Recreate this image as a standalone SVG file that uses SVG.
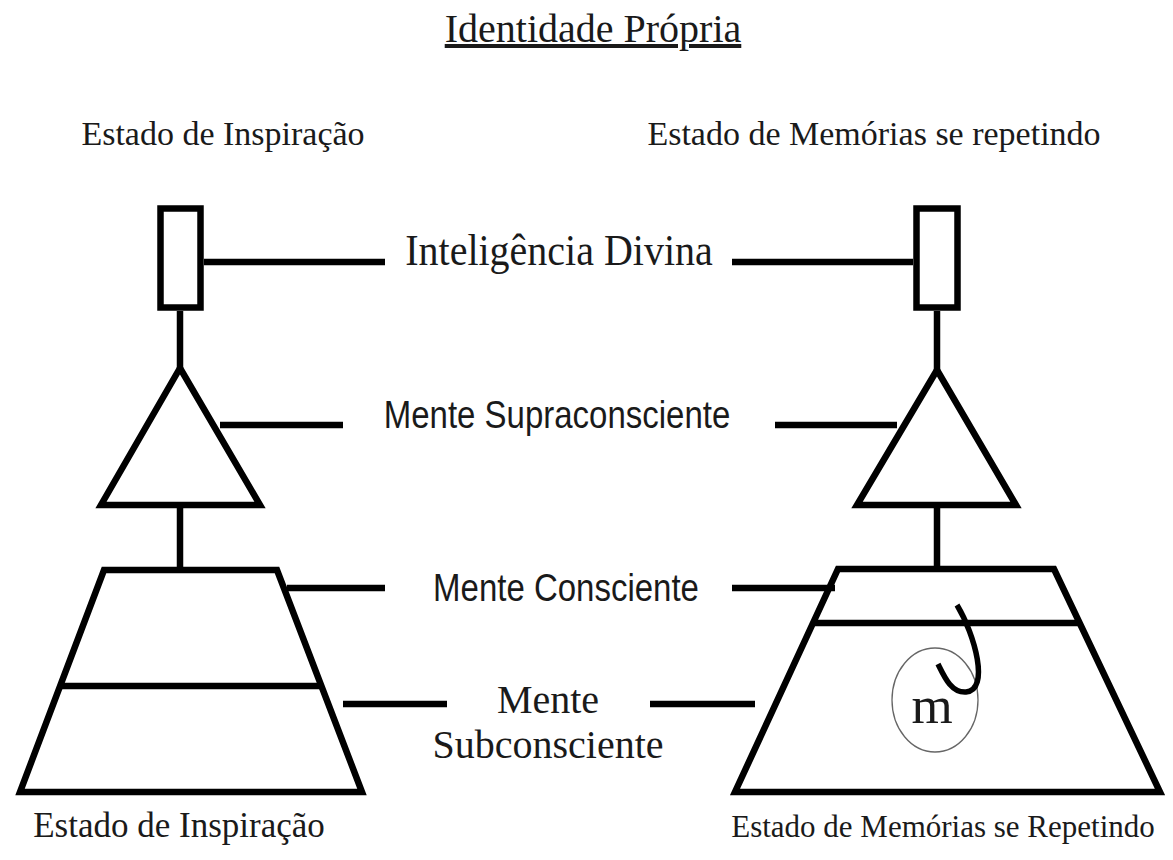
<svg xmlns="http://www.w3.org/2000/svg" width="1173" height="860" viewBox="0 0 1173 860">
<style>
.shape{fill:none;stroke:#000;stroke-width:6.5;stroke-linejoin:miter}
.conn{stroke:#000;stroke-width:6.5;fill:none}
.serif{font-family:"Liberation Serif","Times New Roman",serif;fill:#1a1a1a}
.sans{font-family:"Liberation Sans",Arial,sans-serif;fill:#1a1a1a}
</style>
<rect width="1173" height="860" fill="#fff"/>
<text id="title" class="serif" x="593" y="42" font-size="40" text-anchor="middle" text-decoration="underline">Identidade Própria</text>
<text class="serif" x="223" y="145" font-size="34" text-anchor="middle">Estado de Inspiração</text>
<text class="serif" x="874" y="145" font-size="34" text-anchor="middle">Estado de Memórias se repetindo</text>
<text class="serif" x="179" y="837" font-size="35" text-anchor="middle">Estado de Inspiração</text>
<text class="serif" x="943" y="837" font-size="31" text-anchor="middle">Estado de Memórias se Repetindo</text>
<g id="left-figure">
<g id="left-rect"><rect class="shape" x="160.5" y="208.5" width="40" height="99"/></g>
<g id="left-triangle"><polygon class="shape" points="180,368 101,505 260,505"/></g>
<g id="left-trapezoid"><polygon class="shape" points="104,570 277,570 362,792 20,792"/><line class="shape" x1="58" y1="686" x2="322" y2="686"/></g>
</g>
<g id="right-figure">
<g id="right-rect"><rect class="shape" x="916.5" y="208.5" width="41" height="99"/></g>
<g id="right-triangle"><polygon class="shape" points="937,370 857,505 1016,505"/></g>
<g id="right-trapezoid"><polygon class="shape" points="838,569 1054,569 1160,792 735,792"/><line class="shape" x1="815" y1="623" x2="1080" y2="623"/></g>
<g id="memory"><ellipse cx="935" cy="700" rx="43" ry="52" fill="none" stroke="#666" stroke-width="1.3"/><text class="serif" x="932" y="723" font-size="53" text-anchor="middle">m</text><path d="M957 605 C 975 635, 990 690, 966 692 C 951 693, 944 676, 938 664" fill="none" stroke="#000" stroke-width="5.5" stroke-linecap="butt"/></g>
</g>
<g id="labels">
<text id="lbl-divina" class="serif" font-size="40" text-anchor="middle" transform="translate(559,265) scale(1,1.1)">Inteligência Divina</text>
<text id="lbl-supra" class="sans" font-size="33" text-anchor="middle" transform="translate(557,428) scale(1,1.18)">Mente Supraconsciente</text>
<text id="lbl-consc" class="sans" font-size="33" text-anchor="middle" transform="translate(566,601) scale(1,1.18)">Mente Consciente</text>
<text id="lbl-sub" class="serif" font-size="40" text-anchor="middle"><tspan x="548" y="713">Mente</tspan><tspan x="548" y="758">Subconsciente</tspan></text>
</g>
<g id="connectors">
<line class="conn" x1="180" y1="311" x2="180" y2="368"/>
<line class="conn" x1="180" y1="505" x2="180" y2="570"/>
<line class="conn" x1="937" y1="311" x2="937" y2="370"/>
<line class="conn" x1="937" y1="505" x2="937" y2="569"/>
<line class="conn" x1="204" y1="262" x2="385" y2="262"/>
<line class="conn" x1="732" y1="262" x2="913" y2="262"/>
<line class="conn" x1="220" y1="425" x2="343" y2="425"/>
<line class="conn" x1="775" y1="425" x2="897" y2="425"/>
<line class="conn" x1="287" y1="588" x2="385" y2="588"/>
<line class="conn" x1="732" y1="588" x2="835" y2="588"/>
<line class="conn" x1="343" y1="704" x2="447" y2="704"/>
<line class="conn" x1="650" y1="704" x2="755" y2="704"/>
</g>
</svg>
